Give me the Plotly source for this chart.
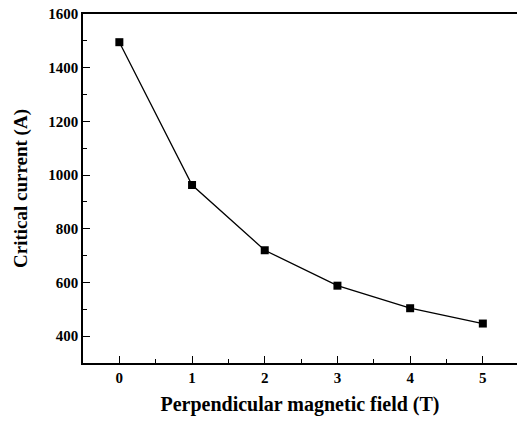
import plotly.graph_objects as go

field = [0, 1, 2, 3, 4, 5]
current = [1495, 963, 720, 588, 504, 447]
y_ticks = [400, 600, 800, 1000, 1200, 1400, 1600]

font = "Liberation Serif"
fig = go.Figure()
fig.add_trace(go.Scatter(
    x=field, y=current, mode="lines+markers",
    line=dict(color="black", width=1.3),
    marker=dict(symbol="square", size=8, color="black"),
    showlegend=False,
))

fig.update_layout(
    width=517, height=421,
    margin=dict(l=83, r=0, t=14, b=58),
    paper_bgcolor="white", plot_bgcolor="white",
    font=dict(family=font, color="black"),
)
fig.update_xaxes(
    range=[-0.5, 5.47], tickvals=field, ticktext=["<b>%d</b>" % v for v in field],
    ticks="inside", ticklen=7, tickwidth=1.2, tickcolor="black",
    minor=dict(dtick=0.5, tick0=0.5, ticks="inside", ticklen=4, tickwidth=1.2, tickcolor="black"),
    showline=True, linecolor="black", linewidth=1.5, mirror=True,
    showgrid=False, zeroline=False,
    tickfont=dict(family=font, size=15, color="black"),
    title=dict(text="<b>Perpendicular magnetic field (T)</b>", font=dict(family=font, size=20, color="black"), standoff=12),
)
fig.update_yaxes(
    range=[300, 1600], tickvals=y_ticks, ticktext=["<b>%d</b>" % v for v in y_ticks],
    ticks="inside", ticklen=7, tickwidth=1.2, tickcolor="black",
    minor=dict(dtick=200, tick0=300, ticks="inside", ticklen=4, tickwidth=1.2, tickcolor="black"),
    showline=True, linecolor="black", linewidth=1.5, mirror=False,
    showgrid=False, zeroline=False,
    tickfont=dict(family=font, size=15, color="black"),
    title=dict(text="<b>Critical current (A)</b>", font=dict(family=font, size=19, color="black"), standoff=16),
)

fig.write_html("out.html")
